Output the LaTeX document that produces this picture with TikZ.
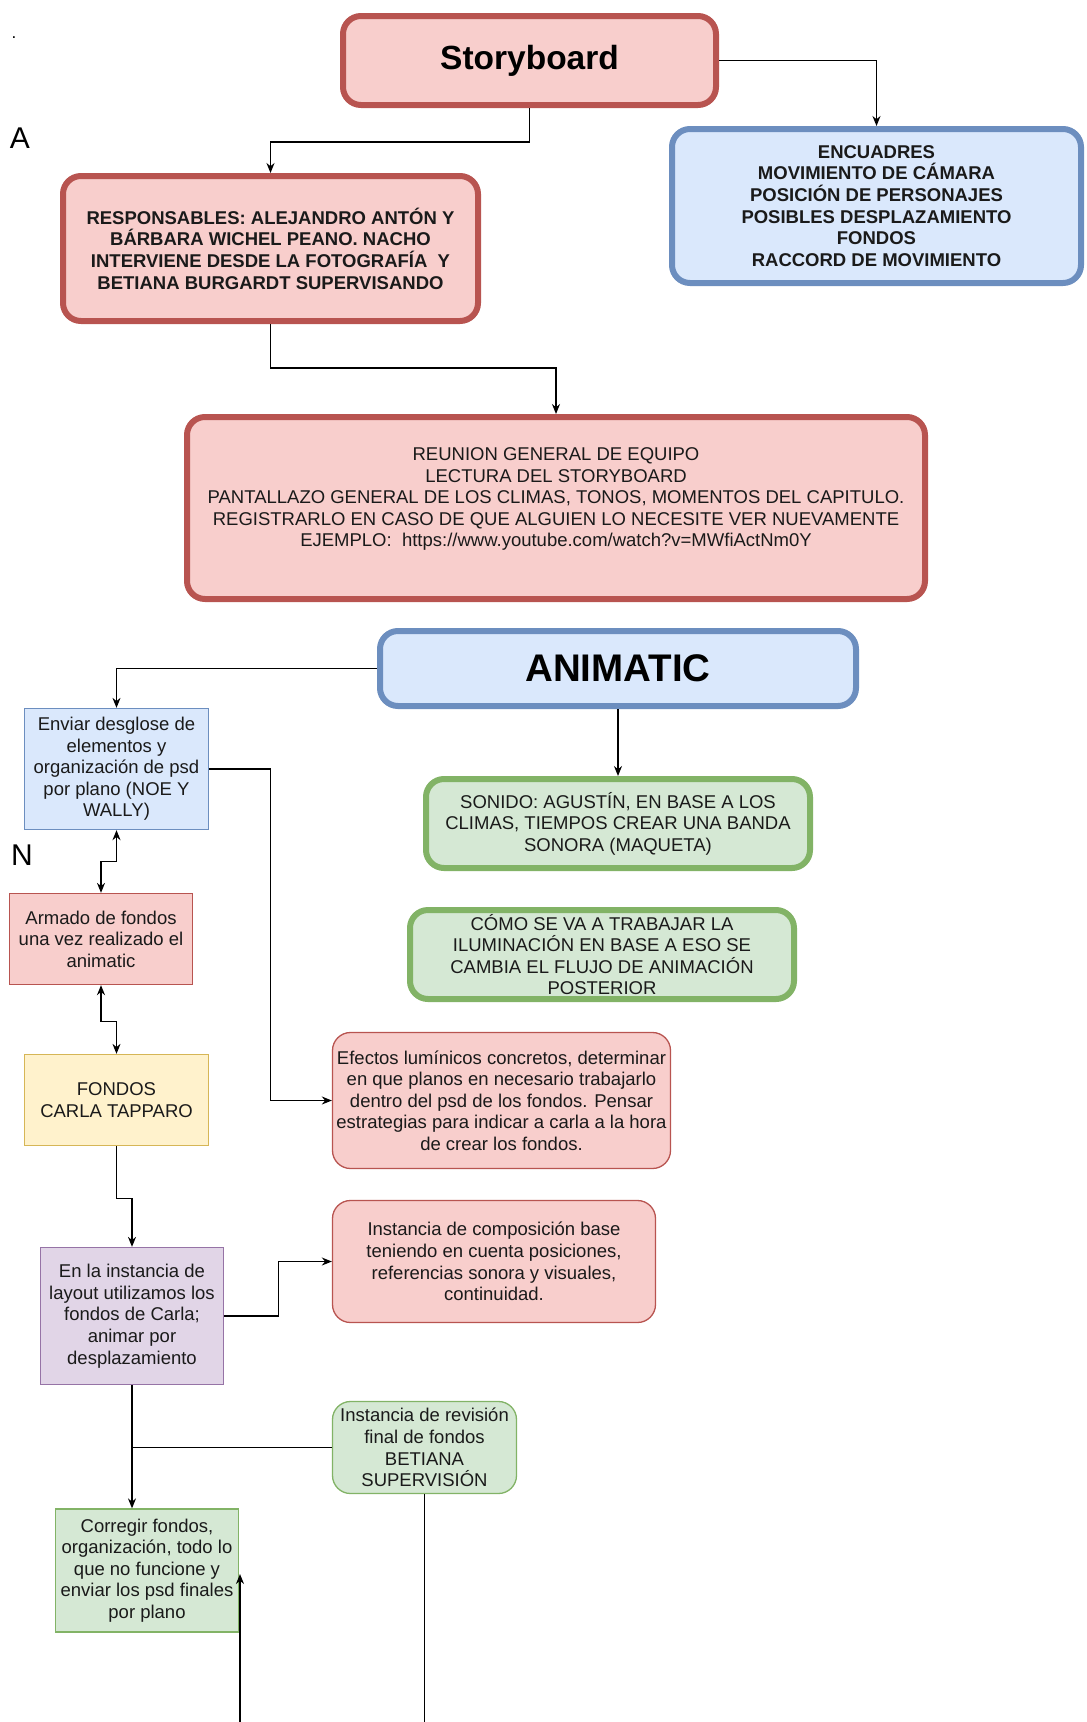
\documentclass[tikz,border=0pt]{standalone}
\usepackage{fontspec}
\setmainfont{Liberation Sans}
\usetikzlibrary{arrows.meta}

\definecolor{pinkfill}{HTML}{F8CECC}
\definecolor{pinkline}{HTML}{B85450}
\definecolor{bluefill}{HTML}{DAE8FC}
\definecolor{blueline}{HTML}{6C8EBF}
\definecolor{greenfill}{HTML}{D5E8D4}
\definecolor{greenline}{HTML}{82B366}
\definecolor{yellowfill}{HTML}{FFF2CC}
\definecolor{yellowline}{HTML}{D6B656}
\definecolor{lilacfill}{HTML}{E1D5E7}
\definecolor{lilacline}{HTML}{9673A6}
\definecolor{ink}{HTML}{1A1A1A}

\tikzset{
  box/.style={draw, align=center, inner sep=1pt, text=ink,
    font=\fontsize{18.5}{21.6}\selectfont},
  heavybox/.style={box, line width=6pt, rounded corners=18pt},
  lightbox/.style={box, line width=1.3pt},
  softbox/.style={lightbox, rounded corners=18pt},
  pinkbox/.style={fill=pinkfill, draw=pinkline},
  bluebox/.style={fill=bluefill, draw=blueline},
  greenbox/.style={fill=greenfill, draw=greenline},
  yellowbox/.style={fill=yellowfill, draw=yellowline},
  lilacbox/.style={fill=lilacfill, draw=lilacline},
  link/.style={line width=1.3pt, -{Stealth[length=10pt,width=8pt]}},
  twoway/.style={line width=1.3pt, {Stealth[length=10pt,width=8pt]}-{Stealth[length=10pt,width=8pt]}},
  plain/.style={line width=1.3pt},
}

\begin{document}
\begin{tikzpicture}[x=1pt,y=-1pt]
\useasboundingbox (0,0) rectangle (1087,1722);

% loose marks at the left margin
\node[font=\fontsize{17}{20}\selectfont, anchor=base] (dot) at (14,38) {.};
\node[font=\fontsize{30}{36}\selectfont] (markA) at (20,138) {A};
\node[font=\fontsize{30}{36}\selectfont] (markN) at (22,855) {N};

% top part
\node[heavybox, pinkbox, minimum width=373, minimum height=89,
  font=\fontsize{33.5}{40}\selectfont\bfseries, text=black] (sb) at (529.5,60.5) {Storyboard};
\node[heavybox, bluebox, minimum width=409, minimum height=154, font=\fontsize{18.5}{21.6}\selectfont\bfseries] (enc) at (876.5,206)
  {ENCUADRES\\ MOVIMIENTO DE CÁMARA\\ POSICIÓN DE PERSONAJES\\ POSIBLES DESPLAZAMIENTO\\ FONDOS\\ RACCORD DE MOVIMIENTO};
\node[heavybox, pinkbox, minimum width=415, minimum height=145, font=\fontsize{18.5}{21.6}\selectfont\bfseries] (resp) at (270.5,248.5)
  {RESPONSABLES: ALEJANDRO ANTÓN Y\\ BÁRBARA WICHEL PEANO. NACHO\\ INTERVIENE DESDE LA FOTOGRAFÍA\ \ Y\\ BETIANA BURGARDT SUPERVISANDO};
\node[heavybox, pinkbox, minimum width=738, minimum height=182] (reu) at (556,508)
  {REUNION GENERAL DE EQUIPO\\ LECTURA DEL STORYBOARD\\ PANTALLAZO GENERAL DE LOS CLIMAS, TONOS, MOMENTOS DEL CAPITULO.\\
   REGISTRARLO EN CASO DE QUE ALGUIEN LO NECESITE VER NUEVAMENTE\\ EJEMPLO:\ \ https://www.youtube.com/watch?v=MWfiActNm0Y\\ \mbox{}};

% animatic part
\node[heavybox, bluebox, minimum width=476, minimum height=75,
  font=\fontsize{38.5}{44}\selectfont\bfseries, text=black] (anim) at (618,668.5) {ANIMATIC};
\node[heavybox, greenbox, minimum width=384, minimum height=89] (son) at (618,823.5)
  {SONIDO: AGUSTÍN, EN BASE A LOS\\ CLIMAS, TIEMPOS CREAR UNA BANDA\\ SONORA (MAQUETA)};
\node[heavybox, greenbox, minimum width=384, minimum height=89] (como) at (602,954.5)
  {CÓMO SE VA A TRABAJAR LA\\ ILUMINACIÓN EN BASE A ESO SE\\ CAMBIA EL FLUJO DE ANIMACIÓN\\ POSTERIOR};

% left column
\node[lightbox, bluebox, minimum width=184, minimum height=121] (env) at (116.5,769)
  {Enviar desglose de\\ elementos y\\ organización de psd\\ por plano (NOE Y\\ WALLY)};
\node[lightbox, pinkbox, minimum width=183, minimum height=91] (arm) at (101,939)
  {Armado de fondos\\ una vez realizado el\\ animatic};
\node[lightbox, yellowbox, minimum width=184, minimum height=91] (fon) at (116.5,1100)
  {FONDOS\\ CARLA TAPPARO};
\node[lightbox, lilacbox, minimum width=183, minimum height=137] (lay) at (132,1316)
  {En la instancia de\\ layout utilizamos los\\ fondos de Carla;\\ animar por\\ desplazamiento};
\node[lightbox, greenbox, minimum width=183, minimum height=123] (cor) at (147,1570.5)
  {Corregir fondos,\\ organización, todo lo\\ que no funcione y\\ enviar los psd finales\\ por plano};

% right column
\node[softbox, pinkbox, minimum width=338, minimum height=136] (efe) at (501.5,1100.5)
  {Efectos lumínicos concretos, determinar\\ en que planos en necesario trabajarlo\\ dentro del psd de los fondos. Pensar\\
   estrategias para indicar a carla a la hora\\ de crear los fondos.};
\node[softbox, pinkbox, minimum width=323, minimum height=122] (comp) at (494,1261.5)
  {Instancia de composición base\\ teniendo en cuenta posiciones,\\ referencias sonora y visuales,\\ continuidad.};
\node[softbox, greenbox, minimum width=184, minimum height=92] (rev) at (424.5,1447.5)
  {Instancia de revisión\\ final de fondos\\ BETIANA\\ SUPERVISIÓN};

\coordinate (lowA) at (240,1722);
\coordinate (lowB) at (424.5,1722);

% connectors
\draw[link] (sb.east) -| (enc.north);
\draw[link] (sb.south) -- ++(0,34) -| (resp.north);
\draw[link] (resp.south) -- ++(0,44) -| (reu.north);
\draw[link] (anim.west) -| (env.north);
\draw[link] (anim.south) -- (son.north);
\draw[link] (env.east) -- ++(61,0) |- (efe.west);
\draw[twoway] (env.south) -- ++(0,31) -| (arm.north);
\draw[twoway] (arm.south) -- ++(0,36) -| (fon.north);
\draw[link] (fon.south) -- ++(0,52) -| (lay.north);
\draw[link] (lay.east) -- ++(54,0) |- (comp.west);
\draw[link] (lay.south) -- (lay.south |- cor.north);
\draw[plain] (rev.west) -- (rev.west -| lay.south);
\draw[plain] (rev.south) -- (lowB);
\draw[link] (lowA) -- (lowA |- 0,1574);
\end{tikzpicture}
\end{document}
